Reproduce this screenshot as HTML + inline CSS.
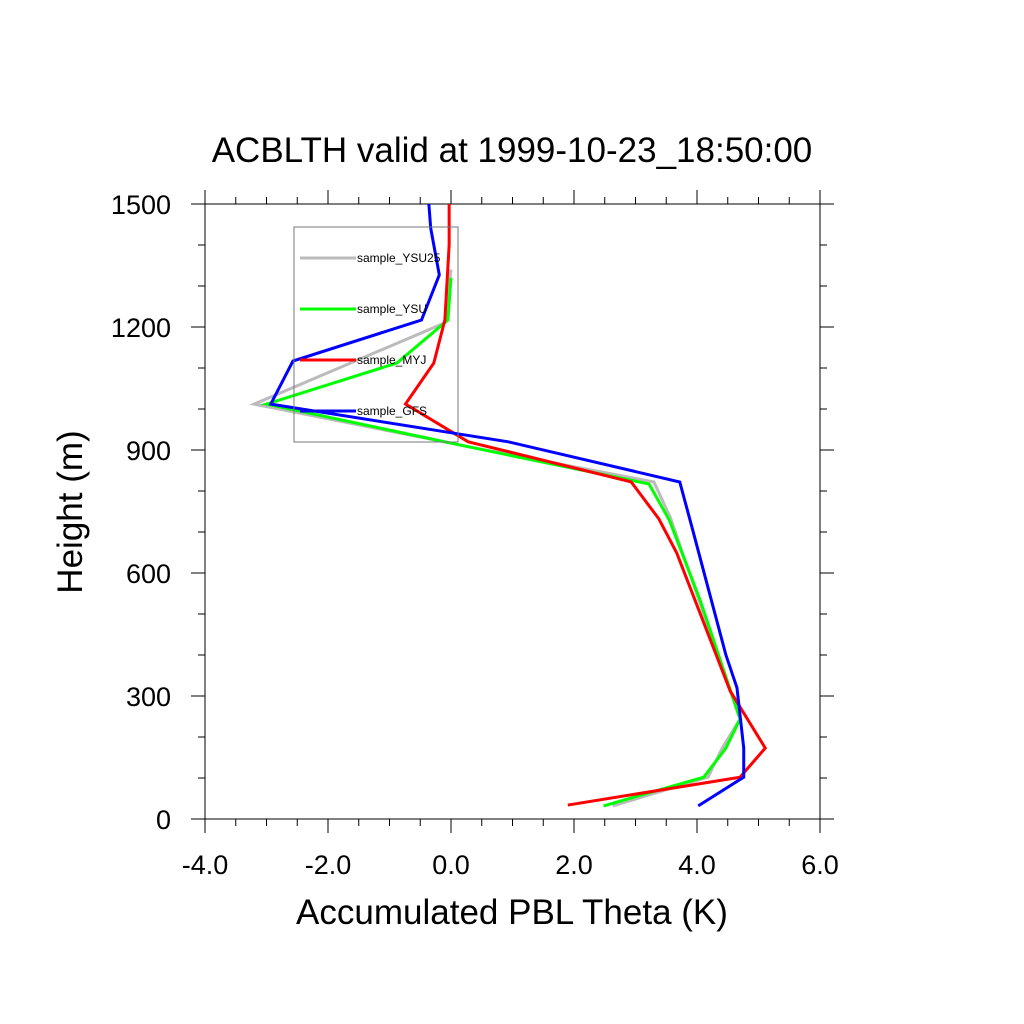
<!DOCTYPE html>
<html><head><meta charset="utf-8"><style>body{margin:0;background:#fff}svg{display:block}text{font-family:"Liberation Sans",sans-serif}</style></head>
<body>
<svg id="c" width="1024" height="1024" viewBox="0 0 1024 1024"></svg>
<script>
const seriesNames=["sample_YSU25","sample_YSU","sample_MYJ","sample_GFS"];
const seriesColors=["#bbbbbb","#00ff00","#ff0000","#0000ff"];
const xTicks=[-4,-2,0,2,4,6];
const xTickLabels=["-4.0","-2.0","0.0","2.0","4.0","6.0"];
const yTicks=[0,300,600,900,1200,1500];
const ysu25X=[0.0,-0.1,-3.2,0.15,3.3,3.57,4.7,4.41,4.18,2.63];
const ysu25Y=[1340,1210,1012,912,822,734,244,173,102,32];
const ysuX=[0.0,-0.05,-0.88,-3.0,0.15,3.22,3.55,4.05,4.7,4.47,4.11,2.48];
const ysuY=[1320,1217,1112,1012,912,817,729,534,244,173,102,32];
const myjX=[-0.03,-0.03,-0.1,-0.28,-0.74,0.28,2.93,3.38,3.67,4.54,5.11,4.7,1.9];
const myjY=[1500,1400,1217,1112,1012,920,822,732,649,312,173,102,34];
const gfsX=[-0.36,-0.33,-0.19,-0.48,-2.57,-2.93,0.93,3.72,3.93,4.47,4.65,4.76,4.76,4.02];
const gfsY=[1500,1441,1327,1217,1117,1012,920,822,705,400,320,173,102,32];
const seriesX=[ysu25X,ysuX,myjX,gfsX];
const seriesY=[ysu25Y,ysuY,myjY,gfsY];
const L=205,R=820,T=204,B=819;
const sx=v=>L+(v+4)/10*(R-L);
const sy=v=>B-v/1500*(B-T);
const NS="http://www.w3.org/2000/svg";
const svg=document.getElementById('c');
function mk(t,a,p){const e=document.createElementNS(NS,t);for(const k in a)e.setAttribute(k,a[k]);(p||svg).appendChild(e);return e;}
const f=mk('rect',{x:L,y:T,width:R-L,height:B-T,fill:'none',stroke:'#000','stroke-width':1});


for(let v=-4;v<=6.001;v+=0.5){const maj=Math.abs(v-Math.round(v/2)*2)<1e-6;const len=maj?14:7;const x=sx(v);
const t1=mk('line',{x1:x,y1:B,x2:x,y2:B+len,stroke:'#000'});
const t2=mk('line',{x1:x,y1:T,x2:x,y2:T-len,stroke:'#000'});}
for(let v=0;v<=1500;v+=100){const maj=v%300===0;const len=maj?14:7;const y=sy(v);
const t1=mk('line',{x1:L,y1:y,x2:L-len,y2:y,stroke:'#000'});
const t2=mk('line',{x1:R,y1:y,x2:R+len,y2:y,stroke:'#000'});}
xTicks.forEach((v,i)=>{const t=mk('text',{x:sx(v),y:874,'font-size':27,'text-anchor':'middle'});t.textContent=xTickLabels[i];
});
yTicks.forEach(v=>{const t=mk('text',{x:171,y:sy(v)+10,'font-size':27,'text-anchor':'end'});t.textContent=String(v);
});
seriesX.forEach((xs,i)=>{const ys=seriesY[i];const n=Math.min(xs.length,ys.length);let pts=[];for(let k=0;k<n;k++)pts.push(sx(xs[k])+','+sy(ys[k]));
const p=mk('polyline',{points:pts.join(' '),fill:'none',stroke:seriesColors[i],'stroke-width':3,'stroke-linejoin':'miter'});
});
const lg=mk('g',{});
mk('rect',{x:294,y:227,width:164,height:215,fill:'none',stroke:'#777','stroke-width':1},lg);
seriesNames.forEach((nm,i)=>{const y=258+i*51;const g=mk('g',{},lg);
mk('line',{x1:300,y1:y,x2:356,y2:y,stroke:seriesColors[i],'stroke-width':3},g);
const t=mk('text',{x:357,y:y+4,'font-size':12},g);t.textContent=nm;});
const ti=mk('text',{x:512,y:162,'font-size':35,'text-anchor':'middle'});ti.textContent='ACBLTH valid at 1999-10-23_18:50:00';

const xt=mk('text',{x:512,y:924,'font-size':35,'text-anchor':'middle'});xt.textContent='Accumulated PBL Theta (K)';

const yt=mk('text',{x:0,y:0,'font-size':35,'text-anchor':'middle',transform:'translate(82,512) rotate(-90)'});yt.textContent='Height (m)';

</script>
</body></html>
